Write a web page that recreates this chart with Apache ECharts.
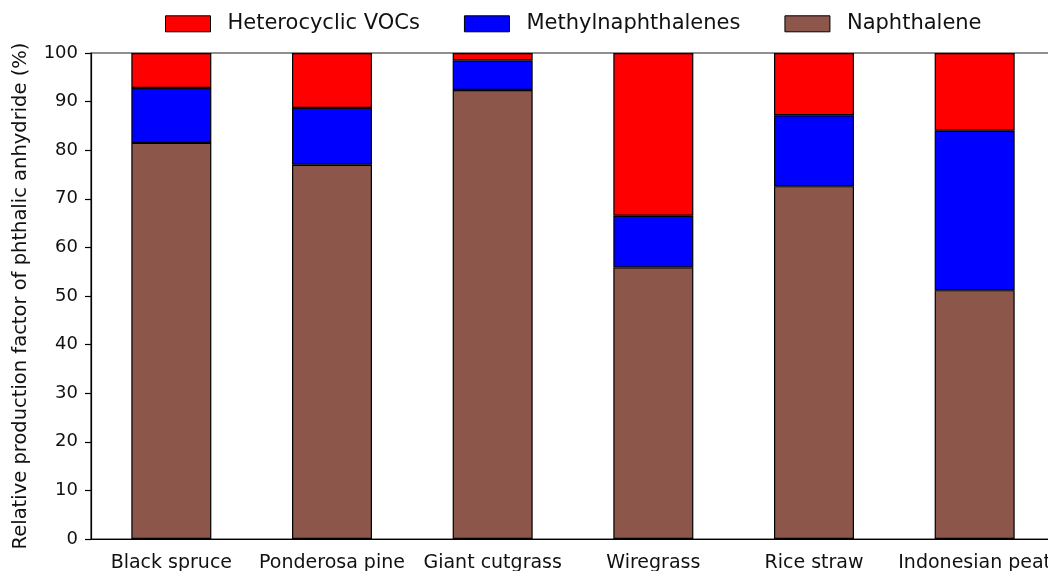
<!DOCTYPE html>
<html>

<head>
  <title>phthalic anhydride</title>
  <script src="https://cdn.jsdelivr.net/npm/echarts@6/dist/echarts.min.js"></script>
  <style>
    body { margin: 0; background: #fff; }
  </style>
</head>

<body>
  <div id="main" style="width: 1048px;height:571px;"></div>
  <script>
    // fuel types on the x axis
    var fuels = ['Black spruce', 'Ponderosa pine', 'Giant cutgrass', 'Wiregrass', 'Rice straw', 'Indonesian peat'];
    // relative contributions (%)
    var naphthalene = [81.5, 77.0, 92.4, 55.9, 72.6, 51.2];
    var methylnaphthalenes = [11.3, 11.7, 6.1, 10.6, 14.6, 32.8];
    var heterocyclic = [7.2, 11.3, 1.5, 33.5, 12.8, 16.0];
    var yTicks = [0, 10, 20, 30, 40, 50, 60, 70, 80, 90, 100];

    var colors = { het: '#ff0000', methyl: '#0000ff', naph: '#8c564b' };
    var font = 'DejaVu Sans';

    var myChart = echarts.init(document.getElementById('main'));

    function barSeries(name, data, color) {
      return {
        name: name,
        type: 'bar',
        stack: 'total',
        barWidth: 80,
        itemStyle: { color: color, borderColor: '#000', borderWidth: 1.2 },
        data: data
      };
    }

    var option = {
      animation: false,
      legend: {
        left: 160,
        top: -2,
        itemWidth: 45,
        itemHeight: 16,
        itemGap: 44,
        icon: 'rect',
        data: ['Heterocyclic VOCs', 'Methylnaphthalenes', 'Naphthalene'],
        itemStyle: { borderColor: '#000', borderWidth: 1 },
        textStyle: { fontFamily: font, fontSize: 21, color: '#111', padding: [0, 0, 0, 12] }
      },
      grid: {
        left: 91,
        top: 53,
        width: 964,
        height: 486,
        show: true,
        borderColor: '#222',
        borderWidth: 1.2,
        outerBoundsMode: 'none',
        containLabel: false
      },
      xAxis: {
        type: 'category',
        data: fuels,
        axisLine: { lineStyle: { color: '#000', width: 1.2 } },
        axisTick: { alignWithLabel: true, length: 6, lineStyle: { color: '#000', width: 1.2 } },
        axisLabel: { fontFamily: font, fontSize: 19, color: '#111', margin: 5, interval: 0 }
      },
      yAxis: {
        type: 'value',
        min: yTicks[0],
        max: yTicks[yTicks.length - 1],
        interval: 10,
        name: 'Relative production factor of phthalic anhydride (%)',
        nameLocation: 'middle',
        nameGap: 51,
        nameMoveOverlap: false,
        nameTextStyle: { fontFamily: font, fontSize: 19.5, color: '#111' },
        splitLine: { show: false },
        axisLine: { show: true, lineStyle: { color: '#000', width: 1.2 } },
        axisTick: { show: true, length: 6, lineStyle: { color: '#000', width: 1.2 } },
        axisLabel: { fontFamily: font, fontSize: 18, color: '#111', margin: 13 }
      },
      series: [
        barSeries('Naphthalene', naphthalene, colors.naph),
        barSeries('Methylnaphthalenes', methylnaphthalenes, colors.methyl),
        barSeries('Heterocyclic VOCs', heterocyclic, colors.het)
      ]
    };

    myChart.setOption(option);
  </script>
</body>

</html>
